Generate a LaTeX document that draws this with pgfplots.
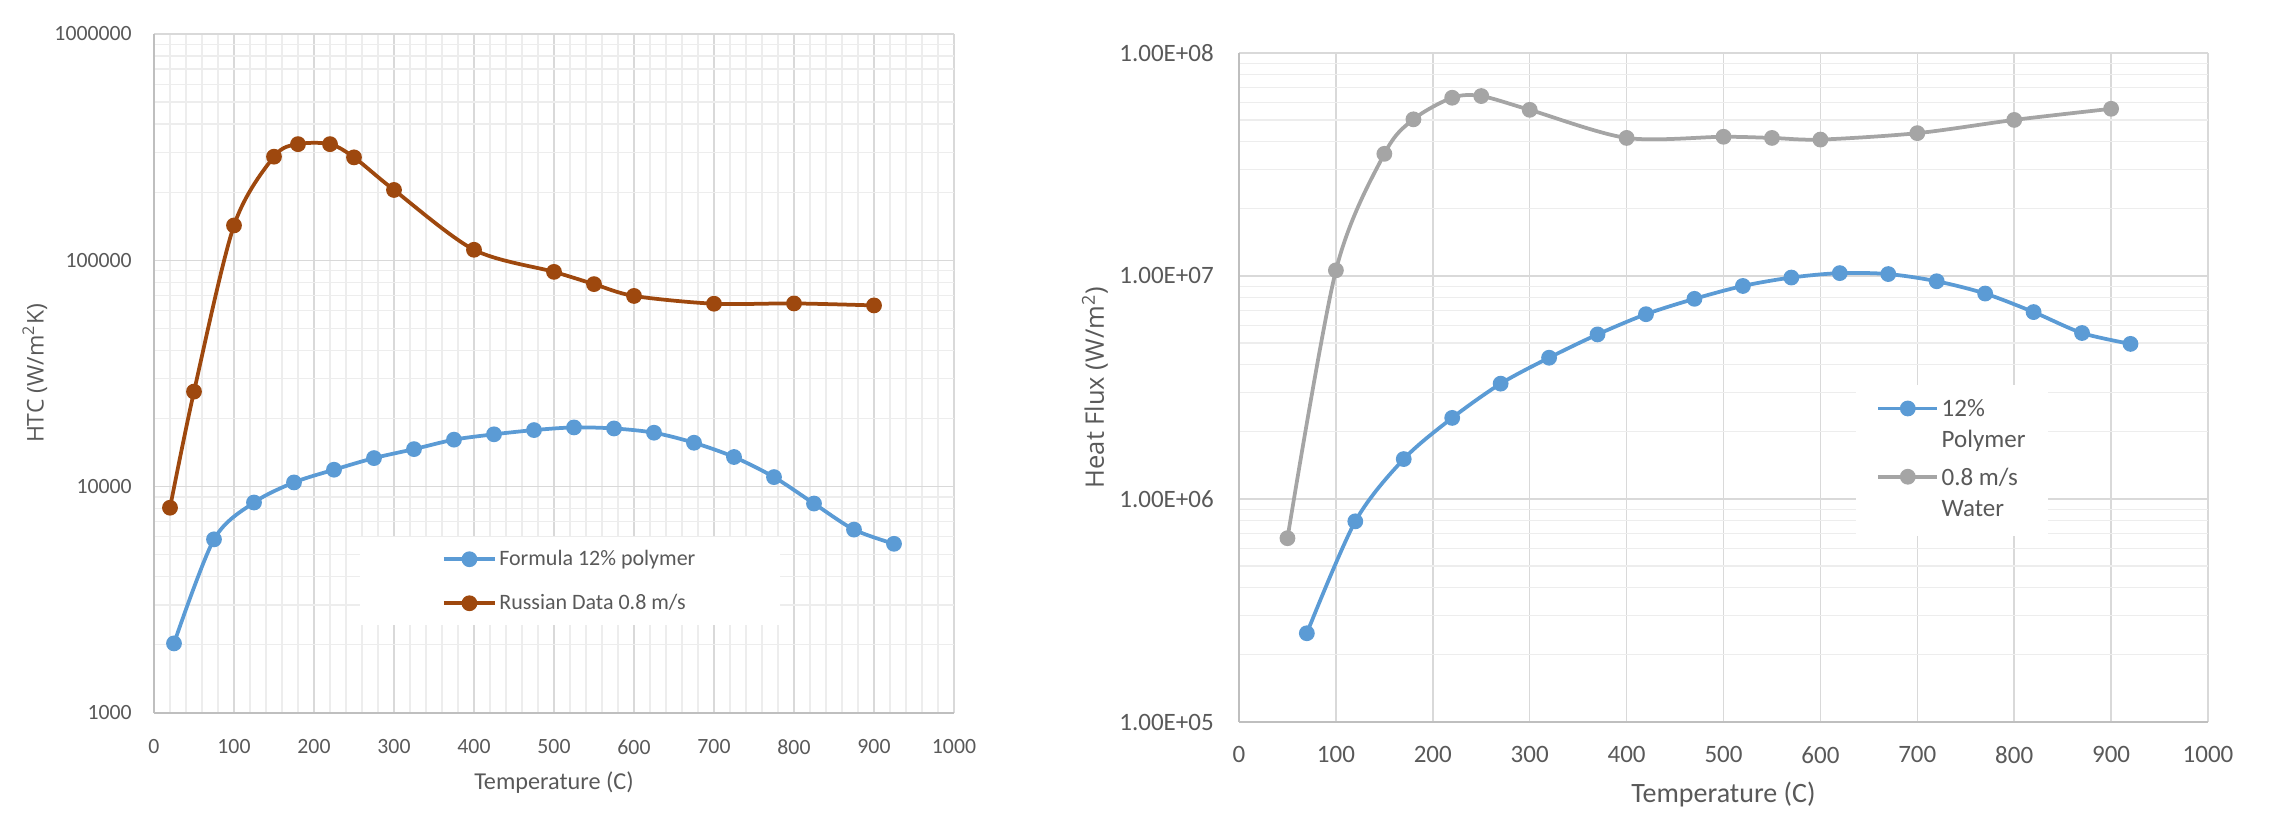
\documentclass[border=0pt]{standalone}
\usepackage{pgfplots}
\pgfplotsset{compat=1.18}
\usepackage{fontspec}
\setmainfont{Carlito}
\newfontfamily\labfont{Open Sans}
\definecolor{xlblue}{HTML}{5B9BD5}
\definecolor{xlbrown}{HTML}{9E480E}
\definecolor{xlgray}{HTML}{A5A5A5}
\definecolor{txt}{HTML}{595959}
\definecolor{gmaj}{HTML}{D9D9D9}
\definecolor{gmin}{HTML}{EDEDED}
\definecolor{axl}{HTML}{BFBFBF}

\pgfplotsset{
  xlstyle/.style={
    scale only axis,
    xmin=0, xmax=1000, xtick={0,100,...,1000},
    xticklabels={0,100,200,300,400,500,600,700,800,900,1000},
    axis x line*=bottom, axis y line*=left,
    axis line style={axl, line width=0.7pt, -},
    tick style={draw=none},
    major grid style={gmaj, line width=0.6pt},
    minor grid style={gmin, line width=0.5pt},
    xmajorgrids, ymajorgrids, yminorgrids,
    ticklabel style={text=txt},
    label style={text=txt},
    legend style={draw=none, fill=white, text=txt},
  },
  myline/.style={smooth, tension=0.5, line width=1.5pt, mark=*, mark size=2.4pt},
}

\begin{document}
\begin{tikzpicture}
\useasboundingbox (0,0) rectangle (909.6pt,332pt);

% ---------------- left chart ----------------
\begin{axis}[xlstyle, ymode=log, clip=false,
  at={(61.6pt,46.8pt)}, anchor=south west,
  width=320pt, height=271.6pt,
  ymin=1000, ymax=1000000,
  ytick={1000,10000,100000,1000000},
  yticklabels={1000,10000,100000,1000000},
  xminorgrids, minor x tick num=4,
  ticklabel style={font=\fontsize{8.7}{10}\selectfont},
  xticklabel shift=7pt, yticklabel shift=5.4pt,
  xlabel={Temperature (C)},
  xlabel style={font=\fontsize{9.7}{11}\selectfont, at={(axis description cs:0.5,-0.103)}, anchor=center},
  ylabel={HTC (W/m\textsuperscript{2}K)},
  ylabel style={font=\labfont\fontsize{9.2}{11}\selectfont, at={(axis description cs:-0.149,0.5)}, anchor=center},
  legend style={at={(axis description cs:0.52,0.194)}, anchor=center,
    font=\fontsize{8.8}{10}\selectfont, inner xsep=33pt, inner ysep=4pt,
    row sep=8pt, nodes={inner sep=1pt}},
  legend cell align=left,
  legend image code/.code={\draw[mark repeat=2,mark phase=2] plot coordinates {(0pt,0pt) (10.2pt,0pt) (20.4pt,0pt)};},
]
\addplot[myline, color=xlblue] coordinates {
(25,2030) (75,5850) (125,8510) (175,10440) (225,11880) (275,13370)
(325,14650) (375,16130) (425,17030) (475,17780) (525,18270) (575,18080)
(625,17310) (675,15630) (725,13520) (775,11020) (825,8420) (875,6460) (925,5590)
};
\addlegendentry{Formula 12\% polymer}
\addplot[myline, color=xlbrown] coordinates {
(20,8070) (50,26300) (100,142600) (150,287000) (180,326000) (220,326000)
(250,285000) (300,204600) (400,111300) (500,88900) (550,78500) (600,69600)
(700,64300) (800,64500) (900,63200)
};
\addlegendentry{Russian Data 0.8 m/s}
\end{axis}

% ---------------- right chart ----------------
\begin{axis}[xlstyle, ymode=log, clip=false,
  at={(495.6pt,43.2pt)}, anchor=south west,
  width=387.6pt, height=267.6pt,
  ymin=100000, ymax=100000000,
  ytick={100000,1000000,10000000,100000000},
  yticklabels={1.00E+05,1.00E+06,1.00E+07,1.00E+08},
  ticklabel style={font=\fontsize{10}{12}\selectfont},
  xticklabel shift=6.3pt, yticklabel shift=6.6pt,
  xlabel={Temperature (C)},
  xlabel style={font=\fontsize{11.2}{13}\selectfont, at={(axis description cs:0.5,-0.109)}, anchor=center},
  ylabel={Heat Flux (W/m\textsuperscript{2})},
  ylabel style={font=\labfont\fontsize{10.2}{12}\selectfont, at={(axis description cs:-0.1486,0.5)}, anchor=center},
  legend cell align=left,
  legend style={at={(axis description cs:0.736,0.391)}, anchor=center,
    font=\fontsize{10}{12.4}\selectfont, inner xsep=8pt, inner ysep=3pt,
    row sep=0.5pt, nodes={inner sep=1pt, text depth=, anchor=base west}},
  legend image code/.code={\draw[mark repeat=2,mark phase=2] plot coordinates {(0pt,3.4pt) (11.8pt,3.4pt) (23.6pt,3.4pt)};},
]
\addplot[myline, color=xlblue] coordinates {
(70,250000) (120,794000) (170,1510000) (220,2310000) (270,3290000)
(320,4300000) (370,5470000) (420,6740000) (470,7900000) (520,9020000)
(570,9840000) (620,10300000) (670,10200000) (720,9470000) (770,8340000)
(820,6890000) (870,5550000) (920,4960000)
};
\addlegendentry{\begin{tabular}[t]{@{}l@{}}12\%\\Polymer\end{tabular}}
\addplot[myline, color=xlgray] coordinates {
(50,667000) (100,10600000) (150,35300000) (180,50400000) (220,63000000)
(250,64100000) (300,55600000) (400,41600000) (500,42100000) (550,41600000)
(600,40900000) (700,43700000) (800,50100000) (900,56200000)
};
\addlegendentry{\begin{tabular}[t]{@{}l@{}}0.8 m/s\\Water\end{tabular}}
\end{axis}
\end{tikzpicture}
\end{document}
